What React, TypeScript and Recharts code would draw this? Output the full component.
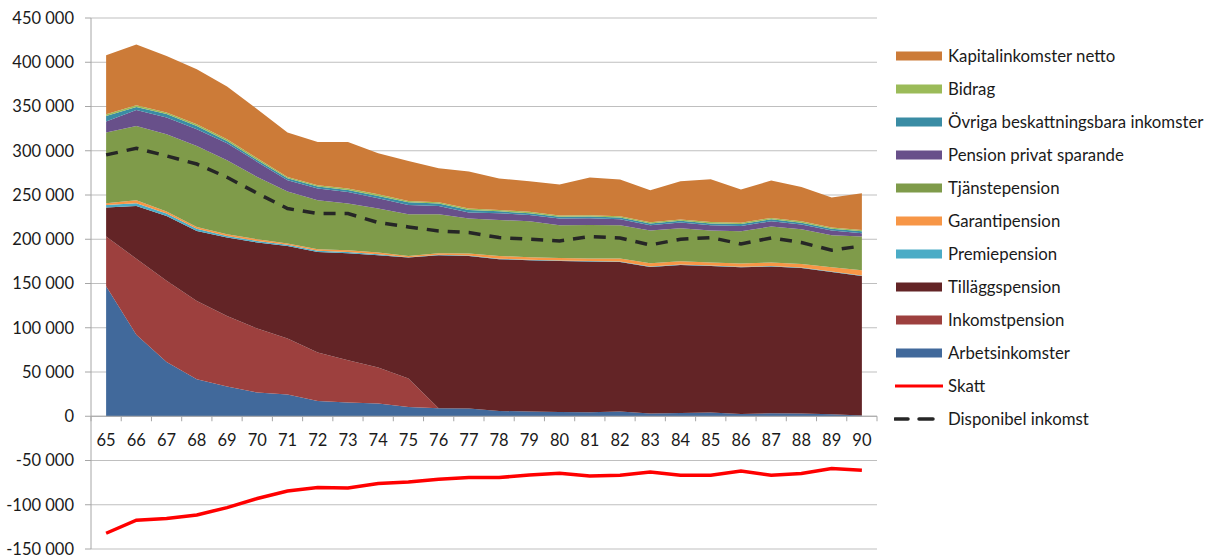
import { ComposedChart, Area, Line, XAxis, YAxis, CartesianGrid, ReferenceLine } from "recharts";

const ages = [
  "65", "66", "67", "68", "69", "70", "71", "72", "73", "74", "75", "76", "77",
  "78", "79", "80", "81", "82", "83", "84", "85", "86", "87", "88", "89", "90",
];

const arbetsinkomster = [147000, 92000, 61400, 41800, 33500, 26800, 24500, 17300, 15400, 14300, 10500, 9000, 8700, 6000, 5300, 4900, 4500, 5300, 3000, 3800, 4200, 2600, 3400, 3000, 2300, 800];
const inkomstpension = [56000, 86000, 91600, 88500, 79900, 72300, 63300, 54700, 47900, 40700, 32100, 0, 0, 0, 0, 0, 0, 0, 0, 0, 0, 0, 0, 0, 0, 0];
const tillaggspension = [32800, 59700, 73300, 79100, 88500, 97200, 104600, 113700, 120900, 126900, 136700, 172900, 172400, 171400, 171000, 170600, 170300, 169100, 165700, 167200, 165600, 165800, 165700, 164600, 160800, 157700];
const premiepension = [3000, 3000, 2700, 2600, 1900, 1800, 1300, 1300, 1300, 1100, 500, 600, 600, 600, 600, 600, 600, 600, 600, 600, 600, 600, 600, 600, 600, 600];
const garantipension = [1900, 3400, 2300, 1900, 1900, 1900, 1500, 1700, 2100, 2000, 1300, 1700, 2200, 3100, 2800, 2800, 2800, 3200, 3600, 3600, 3300, 3500, 4000, 3900, 4700, 5900];
const tjanstepension = [79900, 83900, 87400, 91500, 83600, 70400, 58700, 55400, 52700, 49700, 47200, 44100, 39500, 40700, 40700, 36900, 38000, 37600, 36900, 37200, 36100, 36500, 40600, 39200, 36100, 38000];
const privatSparande = [12400, 18100, 18800, 18900, 19200, 17000, 12800, 13200, 13200, 11600, 10500, 9400, 6800, 7600, 7100, 7600, 7500, 6800, 6000, 6400, 6000, 6000, 6100, 5300, 5300, 3800];
const ovriga = [6300, 3400, 3900, 3700, 2600, 2200, 2200, 2300, 2200, 2700, 3000, 2600, 2900, 2100, 2000, 2000, 2000, 2000, 2000, 2100, 2100, 2200, 2200, 2100, 2100, 2200];
const bidrag = [2000, 1900, 1800, 2000, 1900, 1900, 1500, 1400, 1600, 1900, 1500, 1500, 1600, 1600, 1500, 1500, 1500, 1500, 1500, 1500, 1500, 1500, 1500, 1500, 1500, 1500];
const kapital = [66700, 68600, 64000, 62100, 59600, 55400, 50200, 49000, 52700, 46300, 45200, 38400, 41800, 35500, 34600, 34900, 42500, 41400, 36100, 43200, 48400, 37500, 42200, 38900, 33700, 41500];
const skatt = [-132200, -117500, -115600, -111500, -103200, -93000, -84400, -80600, -81000, -76100, -74200, -71200, -69300, -69300, -66300, -64400, -67400, -66700, -62900, -66700, -66700, -61800, -66700, -64800, -59100, -61000];
const disponibel = [295300, 302800, 294200, 285000, 270000, 252000, 234700, 229000, 229000, 218900, 213900, 209400, 207600, 201900, 200000, 198100, 203100, 201500, 193600, 200000, 201900, 194700, 201500, 196300, 187600, 192400];

const yTicks = [-150000, -100000, -50000, 0, 50000, 100000, 150000, 200000, 250000, 300000, 350000, 400000, 450000];

const areas = [
  { key: "arbets", name: "Arbetsinkomster", color: "#41699B", values: arbetsinkomster },
  { key: "inkomst", name: "Inkomstpension", color: "#9D403E", values: inkomstpension },
  { key: "tillagg", name: "Tilläggspension", color: "#632426", values: tillaggspension },
  { key: "premie", name: "Premiepension", color: "#4BACC6", values: premiepension },
  { key: "garanti", name: "Garantipension", color: "#F79646", values: garantipension },
  { key: "tjanste", name: "Tjänstepension", color: "#7F9B4A", values: tjanstepension },
  { key: "privat", name: "Pension privat sparande", color: "#68508A", values: privatSparande },
  { key: "ovriga", name: "Övriga beskattningsbara inkomster", color: "#3A8CA4", values: ovriga },
  { key: "bidrag", name: "Bidrag", color: "#9BBB59", values: bidrag },
  { key: "kapital", name: "Kapitalinkomster netto", color: "#CC7B38", values: kapital },
];

const data = ages.map((age, i) => {
  const row: Record<string, number | string> = { age, skatt: skatt[i], disponibel: disponibel[i] };
  areas.forEach((a) => {
    row[a.key] = a.values[i];
  });
  return row;
});

const FONT = "Lato, 'Open Sans', sans-serif";
const AXIS_GRAY = "#a6a6a6";
const GRID_GRAY = "#bfbfbf";
const TEXT = "#1a1a1a";

const W = 1207;
const H = 556;
const MARGIN = { top: 18, right: 330, bottom: 7, left: 0 };
const Y_AXIS_W = 91;
const PLOT_W = W - MARGIN.left - MARGIN.right - Y_AXIS_W;
const HALF_STEP = PLOT_W / ages.length / 2;

const fmt = (v: number) => {
  const s = Math.abs(v).toString().replace(/\B(?=(\d{3})+(?!\d))/g, " ");
  return (v < 0 ? "-" : "") + s;
};

// category axis drawn along the zero line, like Excel does it
function AgeAxis(props: any) {
  const vb = props.viewBox;
  if (!vb) return null;
  const n = ages.length;
  const step = vb.width / n;
  return (
    <g>
      {Array.from({ length: n + 1 }, (_, i) => (
        <line key={"t" + i} x1={vb.x + step * i} x2={vb.x + step * i} y1={vb.y} y2={vb.y + 5} stroke={AXIS_GRAY} strokeWidth={1} />
      ))}
      {ages.map((a, i) => (
        <text
          key={a}
          x={vb.x + step * (i + 0.5)}
          y={vb.y + 24}
          textAnchor="middle"
          dominantBaseline="central"
          fontSize={16.5}
          fontFamily={FONT}
          fill={TEXT}
        >
          {a}
        </text>
      ))}
    </g>
  );
}

const legendItems = [
  ...[...areas].reverse().map((a) => ({ name: a.name, color: a.color, kind: "rect" })),
  { name: "Skatt", color: "#FF0000", kind: "line" },
  { name: "Disponibel inkomst", color: "#262626", kind: "dash" },
];

function LegendBox() {
  return (
    <div style={{ position: "absolute", left: 894, top: 39, fontFamily: FONT, fontSize: 16.8, color: TEXT }}>
      {legendItems.map((it) => (
        <div key={it.name} style={{ display: "flex", alignItems: "center", height: 33 }}>
          <svg width={52} height={12} style={{ marginRight: 2 }}>
            {it.kind === "rect" && <rect x={2} y={1.5} width={46} height={9} fill={it.color} />}
            {it.kind === "line" && <line x1={1} x2={49} y1={6} y2={6} stroke={it.color} strokeWidth={3} />}
            {it.kind === "dash" && (
              <>
                <line x1={1} x2={14} y1={6} y2={6} stroke={it.color} strokeWidth={3.5} strokeLinecap="round" />
                <line x1={25} x2={39} y1={6} y2={6} stroke={it.color} strokeWidth={3.5} strokeLinecap="round" />
              </>
            )}
          </svg>
          <span>{it.name}</span>
        </div>
      ))}
    </div>
  );
}

export default function App() {
  return (
    <div style={{ position: "absolute", left: 0, top: 0, width: W, height: H, background: "#fff" }}>
      <ComposedChart width={W} height={H} data={data} margin={MARGIN}>
        <CartesianGrid vertical={false} stroke={GRID_GRAY} strokeWidth={1.2} />
        <XAxis dataKey="age" hide padding={{ left: HALF_STEP, right: HALF_STEP }} />
        <YAxis
          width={Y_AXIS_W}
          domain={[-150000, 450000]}
          ticks={yTicks}
          interval={0}
          tickFormatter={fmt}
          tickSize={6}
          tickMargin={11}
          axisLine={{ stroke: AXIS_GRAY }}
          tickLine={{ stroke: AXIS_GRAY }}
          tick={{ fontSize: 16.5, fill: TEXT, fontFamily: FONT }}
        />
        {areas.map((a) => (
          <Area
            key={a.key}
            type="linear"
            dataKey={a.key}
            name={a.name}
            stackId="inc"
            fill={a.color}
            fillOpacity={1}
            stroke="none"
            isAnimationActive={false}
          />
        ))}
        <ReferenceLine y={0} stroke={AXIS_GRAY} strokeWidth={1.2} label={<AgeAxis />} />
        <Line type="linear" dataKey="skatt" name="Skatt" stroke="#FF0000" strokeWidth={3.5} dot={false} isAnimationActive={false} />
        <Line
          type="linear"
          dataKey="disponibel"
          name="Disponibel inkomst"
          stroke="#262626"
          strokeWidth={3.5}
          strokeDasharray="12 9"
          dot={false}
          isAnimationActive={false}
        />
      </ComposedChart>
      <LegendBox />
    </div>
  );
}
